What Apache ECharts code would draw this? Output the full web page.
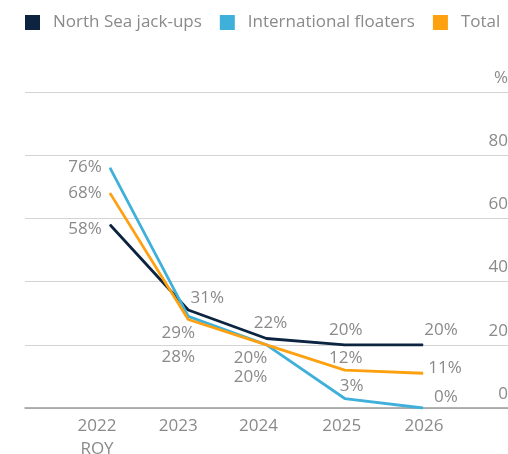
<!DOCTYPE html>
<html><head><meta charset="utf-8">
<script src="https://cdn.jsdelivr.net/npm/echarts@6/dist/echarts.min.js"></script>
<style>html,body{margin:0;padding:0;background:#fff}#c{width:508px;height:454px}</style>
</head><body><div id="c"></div>
<script>
// ---- data ----
const categories = ['2022\nROY', '2023', '2024', '2025', '2026'];
const northSeaJackups = [58, 31, 22, 20, 20];
const internationalFloaters = [76, 29, 20, 3, 0];
const total = [68, 28, 20, 12, 11];
const yTicks = [0, 20, 40, 60, 80, 100];

// ---- styling (label offsets relative to each point, px) ----
const nsLabelOffsets = [[-25, 4], [19, -12], [4, -15], [1, -15], [18, -15]];
const flLabelOffsets = [[-25, -1], [-10, 17], [-16, 32], [7, -12], [23, -11]];
const totLabelOffsets = [[-25, 0], [-10, 38], [-16, 13], [1, -12], [22, -5]];
const xLabelShift = [-13, -10, -8, -3, 1];

const FONT = '"Open Sans", sans-serif';
const GREY = '#8a8a8a';

function build(values, offsets) {
  return values.map((v, i) => ({
    value: v,
    label: { offset: offsets[i] }
  }));
}

function lineSeries(name, values, offsets, color) {
  return {
    name: name,
    type: 'line',
    xAxisIndex: 1,
    yAxisIndex: 1,
    data: build(values, offsets),
    symbol: 'circle',
    symbolSize: 1,
    showSymbol: true,
    lineStyle: { color: color, width: 2.8 },
    itemStyle: { color: color },
    label: {
      show: true,
      position: 'inside',
      formatter: p => p.value + '%',
      color: GREY,
      fontFamily: FONT,
      fontSize: 17
    },
    emphasis: { disabled: true },
    animation: false,
    z: 3
  };
}

const chart = echarts.init(document.getElementById('c'), null, { renderer: 'canvas' });
chart.setOption({
  animation: false,
  backgroundColor: '#fff',
  legend: {
    left: 20,
    top: 9,
    icon: 'rect',
    itemWidth: 15,
    itemHeight: 15,
    itemGap: 18,
    textStyle: { color: GREY, fontFamily: FONT, fontSize: 17, padding: [0, 0, 0, 8] },
    data: ['North Sea jack-ups', 'International floaters', 'Total']
  },
  grid: [
    { left: 25, right: 0, top: 92, bottom: 46, containLabel: false, outerBoundsMode: 'none' },
    { left: 110, right: 85, top: 92, bottom: 46, containLabel: false, outerBoundsMode: 'none' }
  ],
  xAxis: [
    {
      gridIndex: 0, type: 'value', min: 0, max: 1,
      axisLine: { show: true, lineStyle: { color: '#9a9a9a', width: 1.5 } },
      axisTick: { show: false }, axisLabel: { show: false }, splitLine: { show: false }
    },
    {
      gridIndex: 1, type: 'category', boundaryGap: false,
      data: categories.map((c, i) => ({
        value: c,
        textStyle: { padding: xLabelShift[i] < 0 ? [0, -2 * xLabelShift[i], 0, 0] : [0, 0, 0, 2 * xLabelShift[i]] }
      })),
      axisLine: { show: false }, axisTick: { show: false },
      axisLabel: { color: GREY, fontFamily: FONT, fontSize: 17, margin: 7, lineHeight: 23 },
      splitLine: { show: false }
    }
  ],
  yAxis: [
    {
      gridIndex: 0, type: 'value', position: 'right',
      min: yTicks[0], max: yTicks[yTicks.length - 1], interval: 20,
      axisLine: { show: false }, axisTick: { show: false },
      axisLabel: {
        inside: true, margin: 0, color: GREY, fontFamily: FONT, fontSize: 17,
        verticalAlign: 'bottom', lineHeight: 20, padding: [0, 0, 4, 0],
        formatter: v => v === 100 ? '%' : String(v)
      },
      splitLine: { show: true, lineStyle: { color: '#d4d4d4', width: 1 } }
    },
    {
      gridIndex: 1, type: 'value',
      min: yTicks[0], max: yTicks[yTicks.length - 1], interval: 20,
      show: false
    }
  ],
  series: [
    lineSeries('North Sea jack-ups', northSeaJackups, nsLabelOffsets, '#0c2440'),
    lineSeries('International floaters', internationalFloaters, flLabelOffsets, '#3fb0d9'),
    lineSeries('Total', total, totLabelOffsets, '#fda110')
  ]
});
</script>
</body></html>
